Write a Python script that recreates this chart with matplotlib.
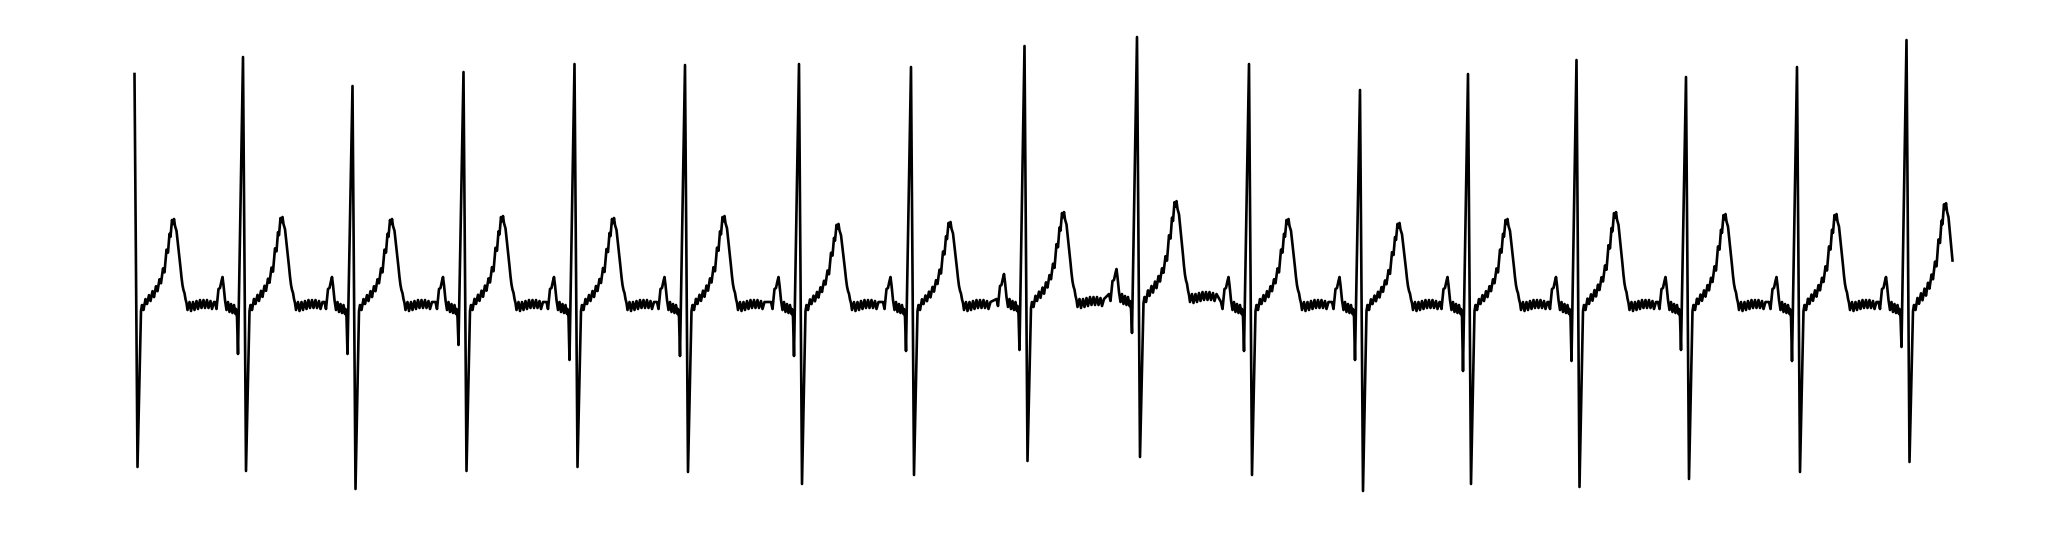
import numpy as np
import matplotlib.pyplot as plt

# ECG trace, 360 Hz samples, amplitudes in mV
r_samples = [0, 217, 436, 658, 880, 1101, 1329, 1553, 1780, 2005, 2229, 2451, 2667, 2884, 3103, 3325, 3544]
r_amp = [2.31, 2.48, 2.19, 2.33, 2.41, 2.40, 2.41, 2.38, 2.59, 2.68, 2.41, 2.15, 2.31, 2.45, 2.28, 2.38, 2.65]
s_amp = [-1.62, -1.66, -1.84, -1.66, -1.62, -1.67, -1.79, -1.70, -1.56, -1.52, -1.70, -1.86, -1.79, -1.82, -1.74, -1.67, -1.57]
q_amp = [None, -0.49, -0.49, -0.40, -0.55, -0.51, -0.51, -0.46, -0.45, -0.28, -0.46, -0.55, -0.66, -0.56, -0.45, -0.56, -0.42]
t_amp = [0.87, 0.89, 0.87, 0.90, 0.88, 0.90, 0.82, 0.84, 0.91, 0.97, 0.87, 0.83, 0.87, 0.94, 0.92, 0.92, 1.03]
base = [0, 0, 0, 0, 0, 0, 0, 0, 0.03, 0.08, 0, 0, 0, 0, 0, 0, 0]
last_sample = 3637

# one beat, offsets in samples from the R peak
s_off = 6
post_off = [13, 15, 18, 22, 25, 29, 32, 36, 39, 43, 46, 50, 53, 57, 60, 64, 67, 70, 72, 75, 77, 79, 81,
            84, 86, 88, 90, 92, 94, 96, 98, 100, 102, 104,
            106, 110, 113, 117, 120, 124, 127, 131, 134, 138, 141, 145, 148, 152, 155, 159]
post_val = [-0.06, 0.00, -0.05, 0.06, 0.01, 0.10, 0.04, 0.14, 0.08, 0.19, 0.14, 0.26, 0.22, 0.37, 0.33, 0.56, 0.53,
            0.72, 0.69, 0.86, 0.82, 0.87, 0.80, 0.75, 0.66, 0.56, 0.48, 0.38, 0.28, 0.20, 0.15, 0.12, 0.06, 0.02,
            -0.05, 0.03, -0.06, 0.03, -0.05, 0.04, -0.04, 0.05, -0.03, 0.05, -0.03, 0.05, -0.03, 0.04, -0.04, 0.03]
t_ref = 0.88
q_off = -10
pre_off = [-56, -53, -49, -46, -43, -41, -39, -36, -33, -30, -27, -24, -21, -18, -15, -14, -12]
pre_val = [0.03, -0.04, 0.16, 0.17, 0.24, 0.28, 0.20, 0.05, -0.05, 0.03, -0.07, 0.01, -0.08, 0.00, -0.09, -0.04, -0.12]

xs, ys = [], []
for i, r in enumerate(r_samples):
    if q_amp[i] is not None:
        for o, v in zip(pre_off, pre_val):
            xs.append(r + o)
            ys.append(v + base[i])
        xs.append(r + q_off)
        ys.append(q_amp[i])
    xs.append(r)
    ys.append(r_amp[i])
    xs.append(r + s_off)
    ys.append(s_amp[i])
    for o, v in zip(post_off, post_val):
        if r + o > last_sample:
            break
        if o <= 104 and v > 0:
            v = v * t_amp[i] / t_ref
        xs.append(r + o)
        ys.append(v + base[i])

fig = plt.figure(figsize=(20.46, 5.38), dpi=100)
ax = fig.add_axes([0, 0, 1, 1])
ax.plot(xs, ys, color="black", linewidth=1.9)
ax.set_xlim(-269, 3823)
ax.set_ylim(-2.33, 3.05)
ax.axis("off")
fig.savefig("out.png", dpi=100)
